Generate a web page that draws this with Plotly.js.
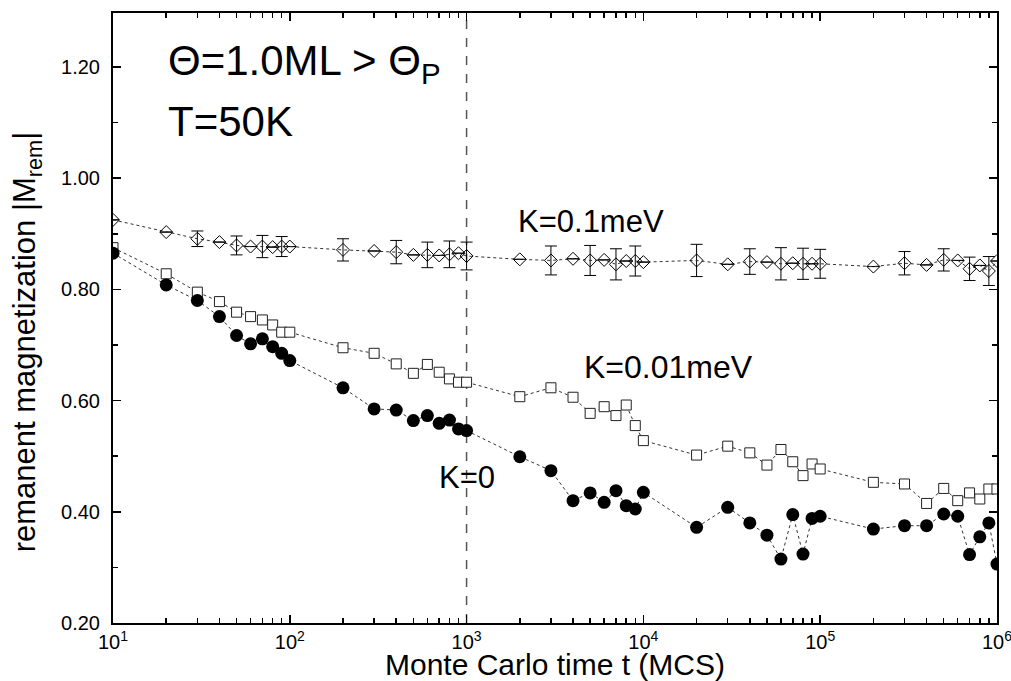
<!DOCTYPE html>
<html>
<head>
<meta charset="utf-8">
<script src="https://cdn.plot.ly/plotly-3.0.1.min.js"></script>
<style>html,body{margin:0;padding:0;background:#fff}#chart{width:1011px;height:681px}</style>
</head>
<body>
<div id="chart"></div>
<script>
// Monte Carlo time (MCS)
const time = [10,20,30,40,50,60,70,80,90,100,
  200,300,400,500,600,700,800,900,1000,
  2000,3000,4000,5000,6000,7000,8000,9000,10000,
  20000,30000,40000,50000,60000,70000,80000,90000,100000,
  200000,300000,400000,500000,600000,700000,800000,900000,1000000];

const mK0 = [0.865,0.808,0.780,0.751,0.717,0.702,0.711,0.697,0.685,0.672,
  0.623,0.585,0.583,0.564,0.573,0.559,0.565,0.549,0.546,
  0.499,0.474,0.420,0.434,0.417,0.438,0.411,0.405,0.435,
  0.372,0.408,0.380,0.358,0.315,0.395,0.324,0.388,0.392,
  0.369,0.375,0.375,0.396,0.392,0.323,0.355,0.380,0.306];

const mK001 = [0.875,0.828,0.795,0.778,0.759,0.751,0.745,0.736,0.723,0.723,
  0.695,0.685,0.666,0.649,0.665,0.651,0.639,0.633,0.633,
  0.607,0.623,0.606,0.577,0.589,0.573,0.592,0.555,0.528,
  0.502,0.518,0.506,0.484,0.512,0.490,0.465,0.486,0.477,
  0.453,0.450,0.415,0.442,0.420,0.434,0.423,0.441,0.441];

const mK01 = [0.925,0.903,0.891,0.885,0.879,0.877,0.877,0.876,0.877,0.877,
  0.871,0.869,0.867,0.862,0.862,0.861,0.863,0.865,0.860,
  0.854,0.852,0.855,0.852,0.853,0.845,0.851,0.851,0.849,
  0.852,0.845,0.850,0.849,0.846,0.847,0.846,0.846,0.846,
  0.841,0.847,0.844,0.853,0.852,0.837,0.843,0.833,0.851];

const errK01 = [null,null,0.014,null,0.017,null,0.020,null,0.018,null,
  0.020,null,0.021,null,0.023,null,0.024,null,0.025,
  null,0.026,null,0.027,null,0.028,null,0.027,null,
  0.029,null,0.023,null,0.029,null,0.028,null,0.026,
  null,0.021,null,0.020,null,0.021,null,0.026,null];

const xTickVals = [10,100,1000,10000,100000,1000000];
const xTickText = ['10<sup>1</sup>','10<sup>2</sup>','10<sup>3</sup>','10<sup>4</sup>','10<sup>5</sup>','10<sup>6</sup>'];
const xMinorVals = [];
for (let d = 10; d < 1000000; d *= 10) for (let k = 2; k <= 9; k++) xMinorVals.push(d * k);

const FONT = 'Liberation Sans, Arial, Helvetica, sans-serif';
const lineStyle = {color: '#333', width: 1, dash: 'dot'};

const traces = [
  {
    x: time, y: mK01, type: 'scatter', mode: 'lines+markers', name: 'K=0.1meV',
    line: lineStyle,
    marker: {symbol: 'diamond-open', size: 10, color: '#000', line: {width: 1, color: '#000'}},
    error_y: {type: 'data', array: errK01, visible: true, color: '#000', thickness: 1, width: 6}
  },
  {
    x: time, y: mK001, type: 'scatter', mode: 'lines+markers', name: 'K=0.01meV',
    line: lineStyle,
    marker: {symbol: 'square', size: 10, color: '#fff', line: {width: 1, color: '#222'}}
  },
  {
    x: time, y: mK0, type: 'scatter', mode: 'lines+markers', name: 'K=0',
    line: lineStyle,
    marker: {symbol: 'circle', size: 13, color: '#000', line: {width: 0}}
  }
];

const layout = {
  width: 1011, height: 681,
  margin: {l: 113, r: 14, t: 13, b: 58, pad: 0},
  paper_bgcolor: '#fff', plot_bgcolor: '#fff',
  showlegend: false,
  font: {family: FONT, color: '#000', size: 20},
  xaxis: {
    type: 'log', range: [1, 6.0003],
    tickmode: 'array', tickvals: xTickVals, ticktext: xTickText,
    ticks: 'inside', ticklen: 8, tickwidth: 1.5, tickcolor: '#000',
    minor: {tickmode: 'array', tickvals: xMinorVals, ticks: 'inside', ticklen: 5, tickwidth: 1.5, tickcolor: '#000', showgrid: false},
    showline: true, linecolor: '#000', linewidth: 2, mirror: 'ticks',
    showgrid: false, zeroline: false,
    ticklabeloverflow: 'allow',
    tickfont: {size: 20, family: FONT},
    title: {text: 'Monte Carlo time t (MCS)', font: {size: 30, family: FONT}, standoff: 7},
    automargin: false
  },
  yaxis: {
    range: [0.2, 1.297],
    tickmode: 'linear', tick0: 0.2, dtick: 0.2, tickformat: '.2f',
    ticks: 'inside', ticklen: 8, tickwidth: 1.5, tickcolor: '#000',
    minor: {dtick: 0.1, ticks: 'inside', ticklen: 5, tickwidth: 1.5, tickcolor: '#000', showgrid: false},
    showline: true, linecolor: '#000', linewidth: 2, mirror: 'ticks',
    showgrid: false, zeroline: false,
    tickfont: {size: 20, family: FONT},
    ticklabelstandoff: 7,
    automargin: false
  },
  shapes: [
    {type: 'line', xref: 'x', yref: 'paper', x0: 1000, x1: 1000, y0: 0, y1: 1,
     line: {color: '#555', width: 1.5, dash: 'dash'}, layer: 'below'}
  ],
  annotations: [
    {xref: 'paper', yref: 'paper', x: -0.097, y: 0.4606, xanchor: 'center', yanchor: 'middle', showarrow: false,
     textangle: -90, text: 'remanent magnetization |M<sub>rem</sub>|', font: {size: 31, family: FONT}},
    {xref: 'x', yref: 'y', x: 1.30, y: 1.207, xanchor: 'left', yanchor: 'middle', showarrow: false,
     text: 'Θ=1.0ML &gt; Θ<sub>P</sub>', font: {size: 42, family: FONT}},
    {xref: 'x', yref: 'y', x: 1.30, y: 1.101, xanchor: 'left', yanchor: 'middle', showarrow: false,
     text: 'T=50K', font: {size: 42, family: FONT}},
    {xref: 'x', yref: 'y', x: 3.28, y: 0.922, xanchor: 'left', yanchor: 'middle', showarrow: false,
     text: 'K=0.1meV', font: {size: 31, family: FONT}},
    {xref: 'x', yref: 'y', x: 3.655, y: 0.660, xanchor: 'left', yanchor: 'middle', showarrow: false,
     text: 'K=0.01meV', font: {size: 32, family: FONT}},
    {xref: 'x', yref: 'y', x: 2.83, y: 0.461, xanchor: 'left', yanchor: 'middle', showarrow: false,
     text: 'K=0', font: {size: 31, family: FONT}}
  ]
};

Plotly.newPlot('chart', traces, layout, {staticPlot: true, displayModeBar: false});
</script>
</body>
</html>
